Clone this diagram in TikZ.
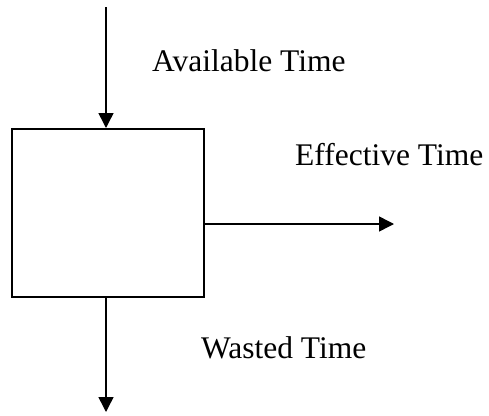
\documentclass[tikz,border=0pt]{standalone}
\usepackage{fontspec}
\setmainfont{Liberation Serif}
\usetikzlibrary{arrows.meta}
\begin{document}
\begin{tikzpicture}[x=1pt,y=-1pt,
  flow/.style={line width=1.5pt,-{Triangle[length=15pt,width=15pt]}},
  lbl/.style={anchor=base west,inner sep=0pt,font=\fontsize{31.5}{34}\selectfont}]
\useasboundingbox (0,0) rectangle (489,415);
% process box
\node[draw,line width=1.5pt,minimum width=192pt,minimum height=168pt,inner sep=0pt,anchor=north west] (box) at (11,128) {};
% connector ends
\coordinate (src) at (106,7);
\coordinate (out) at (394,224);
\coordinate (sink) at (106,412);
\draw[flow] (src) -- (src |- box.north);
\draw[flow] (box.east |- out) -- (out);
\draw[flow] (src |- box.south) -- (sink);
% labels
\node[lbl] (avail) at (152,71.5) {Available Time};
\node[lbl] (eff) at (295,165) {Effective Time};
\node[lbl] (waste) at (201,358) {Wasted Time};
\end{tikzpicture}
\end{document}
